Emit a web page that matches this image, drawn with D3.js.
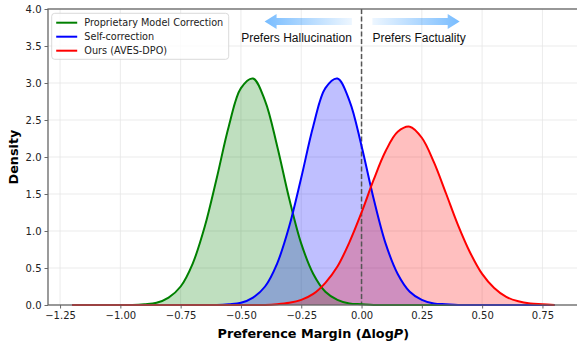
<!DOCTYPE html>
<html>
<head>
<meta charset="utf-8">
<script src="https://cdn.jsdelivr.net/npm/d3@7"></script>
<style>
  body { margin: 0; background: #fff; }
  svg { display: block; }
  .tick text { font-family: "DejaVu Sans", sans-serif; font-size: 10px; fill: #222; }
</style>
</head>
<body>
<script>
// x grid the curves were read on
var xGrid = [-1.2, -1.15, -1.1, -1.05, -1.0, -0.95, -0.9, -0.85, -0.8, -0.75, -0.7,
  -0.65, -0.6, -0.55, -0.5, -0.45, -0.4, -0.35, -0.3, -0.25, -0.2, -0.15, -0.1,
  -0.05, 0.0, 0.05, 0.1, 0.15, 0.2, 0.25, 0.3, 0.35, 0.4, 0.45, 0.5, 0.55, 0.6,
  0.65, 0.7, 0.75, 0.8];

// densities
var proprietary = [0, 0, 0, 0, 0, 0, 0.01, 0.03, 0.10, 0.25, 0.56, 1.06, 1.72, 2.42,
  2.93, 3.06, 2.76, 2.15, 1.44, 0.83, 0.42, 0.18, 0.07, 0.02, 0.01,
  0, 0, 0, 0, 0, 0, 0, 0, 0, 0, 0, 0, 0, 0, 0, 0];
var selfCorrection = [0, 0, 0, 0, 0, 0, 0, 0, 0, 0, 0, 0, 0, 0.01, 0.03, 0.10, 0.25,
  0.56, 1.06, 1.72, 2.42, 2.93, 3.06, 2.76, 2.15, 1.44, 0.83, 0.42, 0.18, 0.07,
  0.02, 0.01, 0, 0, 0, 0, 0, 0, 0, 0, 0];
var ours = [0, 0, 0, 0, 0, 0, 0, 0, 0, 0, 0, 0, 0, 0, 0, 0, 0, 0.01, 0.03, 0.07, 0.15,
  0.30, 0.52, 0.85, 1.25, 1.69, 2.08, 2.34, 2.41, 2.26, 1.93, 1.51, 1.08, 0.71,
  0.42, 0.23, 0.11, 0.05, 0.02, 0.01, 0.00];

var seriesNames = ["Proprietary Model Correction", "Self-correction", "Ours (AVES-DPO)"];
var seriesColors = ["#008000", "#0000ff", "#ff0000"];
var seriesFills = ["rgba(0,128,0,0.25)", "rgba(0,0,255,0.25)", "rgba(255,0,0,0.25)"];

var xTicks = [-1.25, -1.0, -0.75, -0.5, -0.25, 0.0, 0.25, 0.5, 0.75];
var yTicks = [0, 0.5, 1.0, 1.5, 2.0, 2.5, 3.0, 3.5, 4.0];

window.onload = function(){
  var w = 577, h = 342;
  var left = 48, right = 578.6, top = 9, bottom = 305;

  var svg = d3.select("body").append("svg")
      .attr("width", w)
      .attr("height", h);

  var x = d3.scaleLinear().domain([-1.3, 0.9]).range([left, right]);
  var y = d3.scaleLinear().domain([0, 4]).range([bottom, top]);

  //grid lines
  svg.append("g").selectAll("line").data(xTicks).enter().append("line")
      .attr("x1", d => x(d)).attr("x2", d => x(d))
      .attr("y1", top).attr("y2", bottom)
      .style("stroke", "#e6e6e6").style("stroke-width", 0.8);
  svg.append("g").selectAll("line").data(yTicks).enter().append("line")
      .attr("x1", left).attr("x2", right)
      .attr("y1", d => y(d)).attr("y2", d => y(d))
      .style("stroke", "#e6e6e6").style("stroke-width", 0.8);

  var series = [proprietary, selfCorrection, ours].map(function(vals, i){
    return {
      name: seriesNames[i],
      color: seriesColors[i],
      fill: seriesFills[i],
      pts: vals.map(function(v, j){ return [xGrid[j], v]; })
    };
  });

  var area = d3.area()
      .x(d => x(d[0]))
      .y0(y(0))
      .y1(d => y(Math.max(0, d[1])))
      .curve(d3.curveCatmullRom);
  var line = d3.line()
      .x(d => x(d[0]))
      .y(d => y(Math.max(0, d[1])))
      .curve(d3.curveCatmullRom);

  //fills first, lines on top (like matplotlib zorder)
  svg.append("g").selectAll("path").data(series).enter().append("path")
      .attr("d", d => area(d.pts))
      .style("fill", d => d.fill);

  //zero line
  svg.append("line")
      .attr("x1", x(0)).attr("x2", x(0))
      .attr("y1", y(4)).attr("y2", y(0))
      .style("stroke", "#555")
      .style("stroke-width", 1.5)
      .style("stroke-dasharray", "5,2.5");

  svg.append("g").selectAll("path").data(series).enter().append("path")
      .attr("d", d => line(d.pts))
      .style("fill", "none")
      .style("stroke", d => d.color)
      .style("stroke-width", 2);

  //axes
  var xAxis = d3.axisBottom(x).tickValues(xTicks).tickFormat(d3.format(".2f"))
      .tickSize(3.5).tickPadding(3.5);
  var yAxis = d3.axisLeft(y).tickValues(yTicks).tickFormat(d3.format(".1f"))
      .tickSize(3.5).tickPadding(3);

  var gx = svg.append("g").attr("transform", "translate(0," + bottom + ")").call(xAxis);
  var gy = svg.append("g").attr("transform", "translate(" + left + ",0)").call(yAxis);
  [gx, gy].forEach(function(g){
    g.select(".domain").remove();
    g.selectAll(".tick line").style("stroke", "#444").style("stroke-width", 0.8);
  });

  //spines
  svg.append("rect")
      .attr("x", left).attr("y", top)
      .attr("width", right - left).attr("height", bottom - top)
      .style("fill", "none")
      .style("stroke", "#666")
      .style("stroke-width", 1.3);

  //axis titles
  var xl = svg.append("text")
      .attr("x", (left + right) / 2)
      .attr("y", 338)
      .attr("text-anchor", "middle")
      .style("font-family", "DejaVu Sans")
      .style("font-weight", "bold")
      .style("font-size", "12.8px");
  xl.append("tspan").text("Preference Margin (\u0394log");
  xl.append("tspan").style("font-style", "italic").text("P");
  xl.append("tspan").text(")");

  svg.append("text")
      .attr("transform", "translate(18," + (top + bottom) / 2 + ") rotate(-90)")
      .attr("text-anchor", "middle")
      .style("font-family", "DejaVu Sans")
      .style("font-weight", "bold")
      .style("font-size", "12.8px")
      .text("Density");

  //direction arrows
  var defs = svg.append("defs");
  function grad(id, x1, x2){
    var g = defs.append("linearGradient").attr("id", id)
        .attr("x1", x1).attr("x2", x2).attr("y1", 0).attr("y2", 0);
    g.append("stop").attr("offset", 0).attr("stop-color", "#1e90ff").attr("stop-opacity", 0.08);
    g.append("stop").attr("offset", 1).attr("stop-color", "#1e90ff").attr("stop-opacity", 0.6);
  }
  grad("gradL", 1, 0);
  grad("gradR", 0, 1);

  function arrow(x0, x1, yv, fillId){
    var px0 = x(x0), px1 = x(x1), py = y(yv);
    var dir = px1 > px0 ? 1 : -1;
    var headLen = 12, headW = 7.5, shaftW = 3.5;
    var hb = px1 - dir * headLen;
    var pts = [[px0, py - shaftW], [hb, py - shaftW], [hb, py - headW], [px1, py],
      [hb, py + headW], [hb, py + shaftW], [px0, py + shaftW]];
    svg.append("path")
        .attr("d", "M" + pts.join("L") + "Z")
        .style("fill", "url(#" + fillId + ")");
  }
  arrow(-0.04, -0.402, 3.83, "gradL");
  arrow(0.045, 0.407, 3.83, "gradR");

  svg.append("text")
      .attr("x", x(-0.04)).attr("y", y(3.55))
      .attr("text-anchor", "end")
      .style("font-family", "Liberation Sans, Arial, sans-serif")
      .style("font-size", "12px")
      .style("fill", "#111")
      .text("Prefers Hallucination");
  svg.append("text")
      .attr("x", x(0.045)).attr("y", y(3.55))
      .attr("text-anchor", "start")
      .style("font-family", "Liberation Sans, Arial, sans-serif")
      .style("font-size", "12px")
      .style("fill", "#111")
      .text("Prefers Factuality");

  //legend
  var lg = svg.append("g").attr("transform", "translate(51.7,13.3)");
  lg.append("rect")
      .attr("width", 177).attr("height", 46).attr("rx", 3)
      .style("fill", "rgba(255,255,255,0.8)")
      .style("stroke", "#d0d0d0")
      .style("stroke-width", 0.8);
  var items = lg.selectAll(".item").data(series).enter().append("g")
      .attr("class", "item")
      .attr("transform", (d, i) => "translate(0," + (9.4 + i * 14) + ")");
  items.append("line")
      .attr("x1", 4.5).attr("x2", 25.5)
      .style("stroke", d => d.color)
      .style("stroke-width", 2);
  items.append("text")
      .attr("x", 32.6).attr("y", 3.5)
      .style("font-family", "DejaVu Sans")
      .style("font-size", "9.7px")
      .style("fill", "#222")
      .text(d => d.name);
};
</script>
</body>
</html>
